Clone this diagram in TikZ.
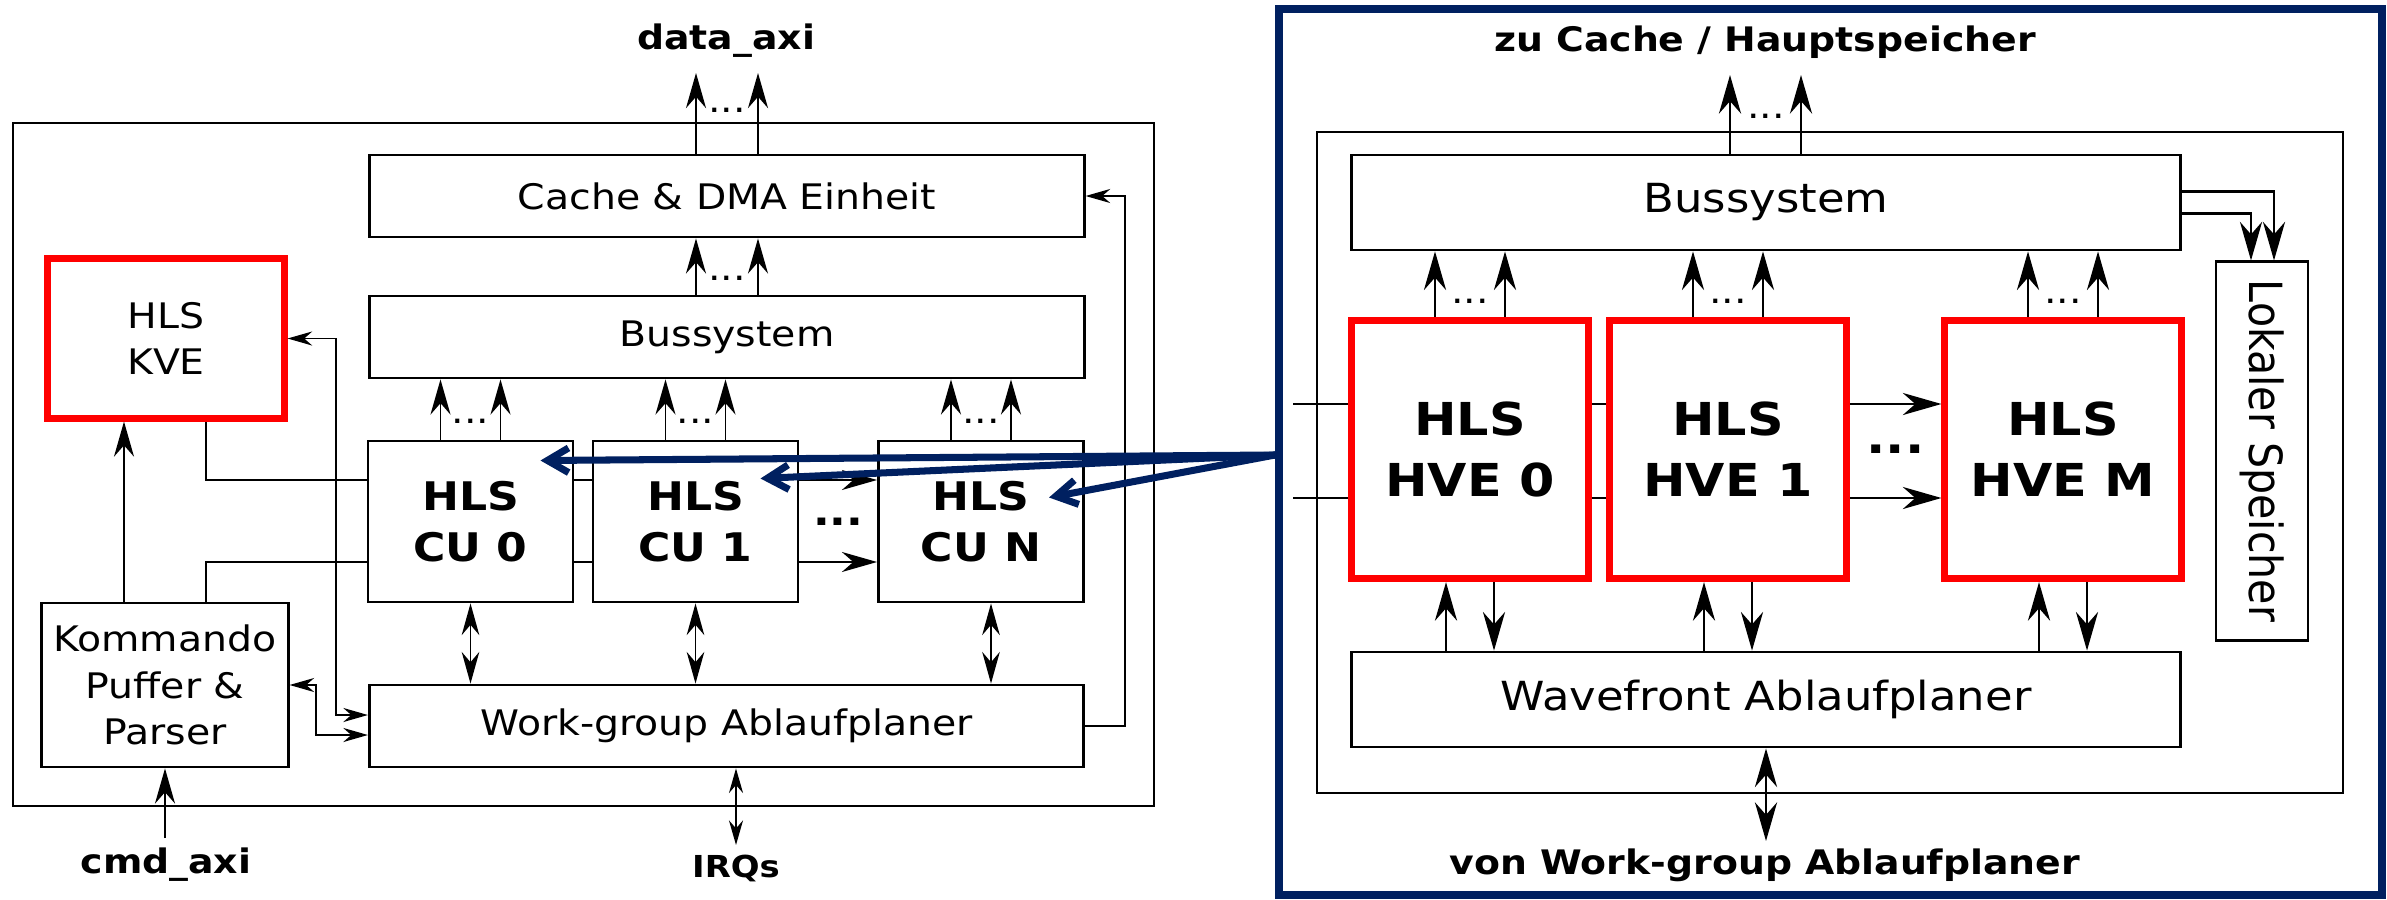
\documentclass[tikz,border=0pt]{standalone}
\usepackage{graphicx}
\usepackage{fontspec}
\setmainfont{DejaVu Sans}[FakeStretch=1.12]
\newfontfamily\lokfont[FakeStretch=0.9]{DejaVu Sans}
\usetikzlibrary{arrows.meta,calc,backgrounds}
\definecolor{hlsred}{RGB}{255,0,0}
\definecolor{hlsblue}{RGB}{0,32,96}
\newcommand\boxtxt{\fontsize{10}{13.2}\selectfont}
\newcommand\bustxt{\fontsize{11.4}{14}\selectfont}
\newcommand\cutxt{\fontsize{11.2}{14.5}\selectfont\bfseries}
\newcommand\hvetxt{\fontsize{12.9}{17.4}\selectfont\bfseries}
\newcommand\lbltxt{\fontsize{9.6}{12}\selectfont\bfseries}
\newcommand\irqtxt{\fontsize{8.6}{10}\selectfont\bfseries}
\newcommand\loktxt{\lokfont\fontsize{13}{15}\selectfont}
\begin{document}
\begin{tikzpicture}[x=0.01cm,y=-0.01cm,
  box/.style={draw,line width=0.8pt,fill=white,align=center,font=\boxtxt},
  hls/.style={box,draw=hlsred,line width=2pt},
  cu/.style={box,minimum width=2.05cm,minimum height=1.61cm,font=\cutxt},
  hve/.style={hls,minimum width=2.36cm,minimum height=2.58cm,font=\hvetxt},
  wide/.style={box,minimum width=7.14cm,minimum height=0.82cm},
  rwide/.style={box,minimum width=8.28cm,minimum height=0.95cm,font=\bustxt},
  dots/.style={font=\boxtxt,inner sep=0pt},
  outline/.style={line width=0.6pt},
  arr/.style={line width=0.5pt,-{Stealth[length=10pt,width=5.7pt]}},
  dbl/.style={line width=0.5pt,{Stealth[length=9pt,width=5pt]}-{Stealth[length=9pt,width=5pt]}},
  sarr/.style={line width=0.5pt,-{Stealth[length=7pt,width=4pt]}},
  sdbl/.style={line width=0.5pt,{Stealth[length=7pt,width=4pt]}-{Stealth[length=7pt,width=4pt]}},
  rarr/.style={line width=0.6pt,-{Stealth[length=11pt,width=6.3pt]}},
  rdbl/.style={line width=0.6pt,{Stealth[length=11pt,width=6.3pt]}-{Stealth[length=11pt,width=6.3pt]}},
  cuarrow/.style={hlsblue,line width=2pt,line cap=round,-{Straight Barb[length=6pt,width=7pt]}}]
\useasboundingbox (0,0) rectangle (2387,900);
\draw[outline] (13,123) rectangle (1154,806);
\node[wide] (cache) at (727,196) {Cache \& DMA Einheit};
\node[wide] (busl) at (727,337) {Bussystem};
\node[hls,minimum width=2.36cm,minimum height=1.59cm] (kve) at (166,338.5) {HLS\\KVE};
\node[cu] (cu0) at (470.5,521.5) {HLS\\CU 0};
\node[cu] (cu1) at (695.5,521.5) {HLS\\CU 1};
\node[cu] (cun) at (981,521.5) {HLS\\CU N};
\node[box,minimum width=2.46cm,minimum height=1.64cm] (kom) at (165,685) {Kommando\\Puffer \&\\Parser};
\node[wide] (wg) at (726.5,726) {Work-group Ablaufplaner};
\node[font=\cutxt,inner sep=0pt] at ($(cu1.east)!0.5!(cun.west)$) {...};
\node[font=\lbltxt] (dataaxi) at (726,41) {data\_axi};
\node[font=\lbltxt] (cmdaxi) at (166,865) {cmd\_axi};
\node[font=\irqtxt] (irqs) at (736,868) {IRQs};
\coordinate (dtop) at (726,73);
\coordinate (cmdin) at (165,838);
\coordinate (irqout) at (736,845);
\draw[hlsblue,line width=2.1pt] (1279,9) rectangle (2382,895);
\draw[outline] (1317,132) rectangle (2343,793);
\node[rwide] (busr) at (1766,202.5) {Bussystem};
\node[box,minimum width=0.92cm,minimum height=3.78cm] (lok) at (2262,451) {\rotatebox{-90}{\loktxt Lokaler Speicher}};
\node[hve] (hve0) at (1470,449.5) {HLS\\HVE 0};
\node[hve] (hve1) at (1728,449.5) {HLS\\HVE 1};
\node[hve] (hvem) at (2063,449.5) {HLS\\HVE M};
\node[rwide] (wf) at (1766,699.5) {Wavefront Ablaufplaner};
\node[font=\hvetxt,inner sep=0pt] at ($(hve1.east)!0.5!(hvem.west)$) {...};
\node[font=\lbltxt] (zucache) at (1765,42) {zu Cache / Hauptspeicher};
\node[font=\lbltxt] (vonwg) at (1765,865) {von Work-group Ablaufplaner};
\coordinate (ztop) at (1766,75);
\coordinate (wfout) at (1766,841);
\coordinate (hin1) at (1293,404);
\coordinate (hin2) at (1293,498);
\coordinate (src) at (1275,455);
\begin{scope}[on background layer]
\draw[arr] ($(kve.south)+(40,0)$) |- ($(cun.west)+(0,-41.5)$);
\draw[arr] ($(kom.north)+(41,0)$) |- ($(cun.west)+(0,40.5)$);
\draw[rarr] (hin1) -- (hin1 -| hvem.west);
\draw[rarr] (hin2) -- (hin2 -| hvem.west);
\end{scope}
\foreach \d in {-31,31} {
  \draw[arr] ($(cache.north)+(\d,0)$) -- ($(cache.north |- dtop)+(\d,0)$);
  \draw[arr] ($(busl.north)+(\d,0)$) -- ($(cache.south)+(\d,0)$);
}
\node[dots] at ($(cache.north |- dtop)+(0,37)$) {...};
\node[dots] at ($(busl.north)+(0,-16)$) {...};
\foreach \n in {cu0,cu1,cun} {
  \foreach \d in {-30,30}
    \draw[arr] ($(\n.north)+(\d,0)$) -- ($(busl.south -| \n.north)+(\d,0)$);
  \node[dots] at ($(\n.north)+(0,-18)$) {...};
}
\foreach \n/\d in {cu0/0,cu1/0,cun/10}
  \draw[dbl] ($(\n.south)+(\d,0)$) -- ($(wg.north -| \n.south)+(\d,0)$);
\draw[arr] ($(kom.north)+(-41,0)$) -- ($(kom.north |- kve.south)+(-41,0)$);
\draw[arr] (cmdin) -- (kom.south);
\draw[sdbl] (wg.south -| irqout) -- (irqout);
\draw[sdbl] (kve.east) -| ($(wg.west)+(-32,-11)$) -- ($(wg.west)+(0,-11)$);
\draw[sdbl] (kom.east) -| ($(wg.west)+(-52,9)$) -- ($(wg.west)+(0,9)$);
\draw[sarr] (wg.east) -| ($(cache.east)+(39,0)$) -- (cache.east);
\foreach \d in {-36,35}
  \draw[rarr] ($(busr.north)+(\d,0)$) -- ($(busr.north |- ztop)+(\d,0)$);
\node[dots] at ($(busr.north)+(0,-37)$) {...};
\foreach \n in {hve0,hve1,hvem} {
  \foreach \d in {-35,35}
    \draw[rarr] ($(\n.north)+(\d,0)$) -- ($(busr.south -| \n.north)+(\d,0)$);
  \node[dots] at ($(\n.north)+(0,-16)$) {...};
  \draw[rarr] ($(wf.north -| \n.south)+(-24,0)$) -- ($(\n.south)+(-24,0)$);
  \draw[rarr] ($(\n.south)+(24,0)$) -- ($(wf.north -| \n.south)+(24,0)$);
}
\draw[rarr] ($(busr.east)+(0,-11)$) -| ($(lok.north)+(12,0)$);
\draw[rarr] ($(busr.east)+(0,11)$) -| ($(lok.north)+(-11,0)$);
\draw[rdbl] (wf.south) -- (wfout);
\draw[cuarrow] (src) -- ($(cu0)+(70,-61)$);
\draw[cuarrow] (src) -- ($(cu1)+(65,-43)$);
\draw[cuarrow] (src) -- ($(cun)+(68,-24)$);
\end{tikzpicture}
\end{document}
